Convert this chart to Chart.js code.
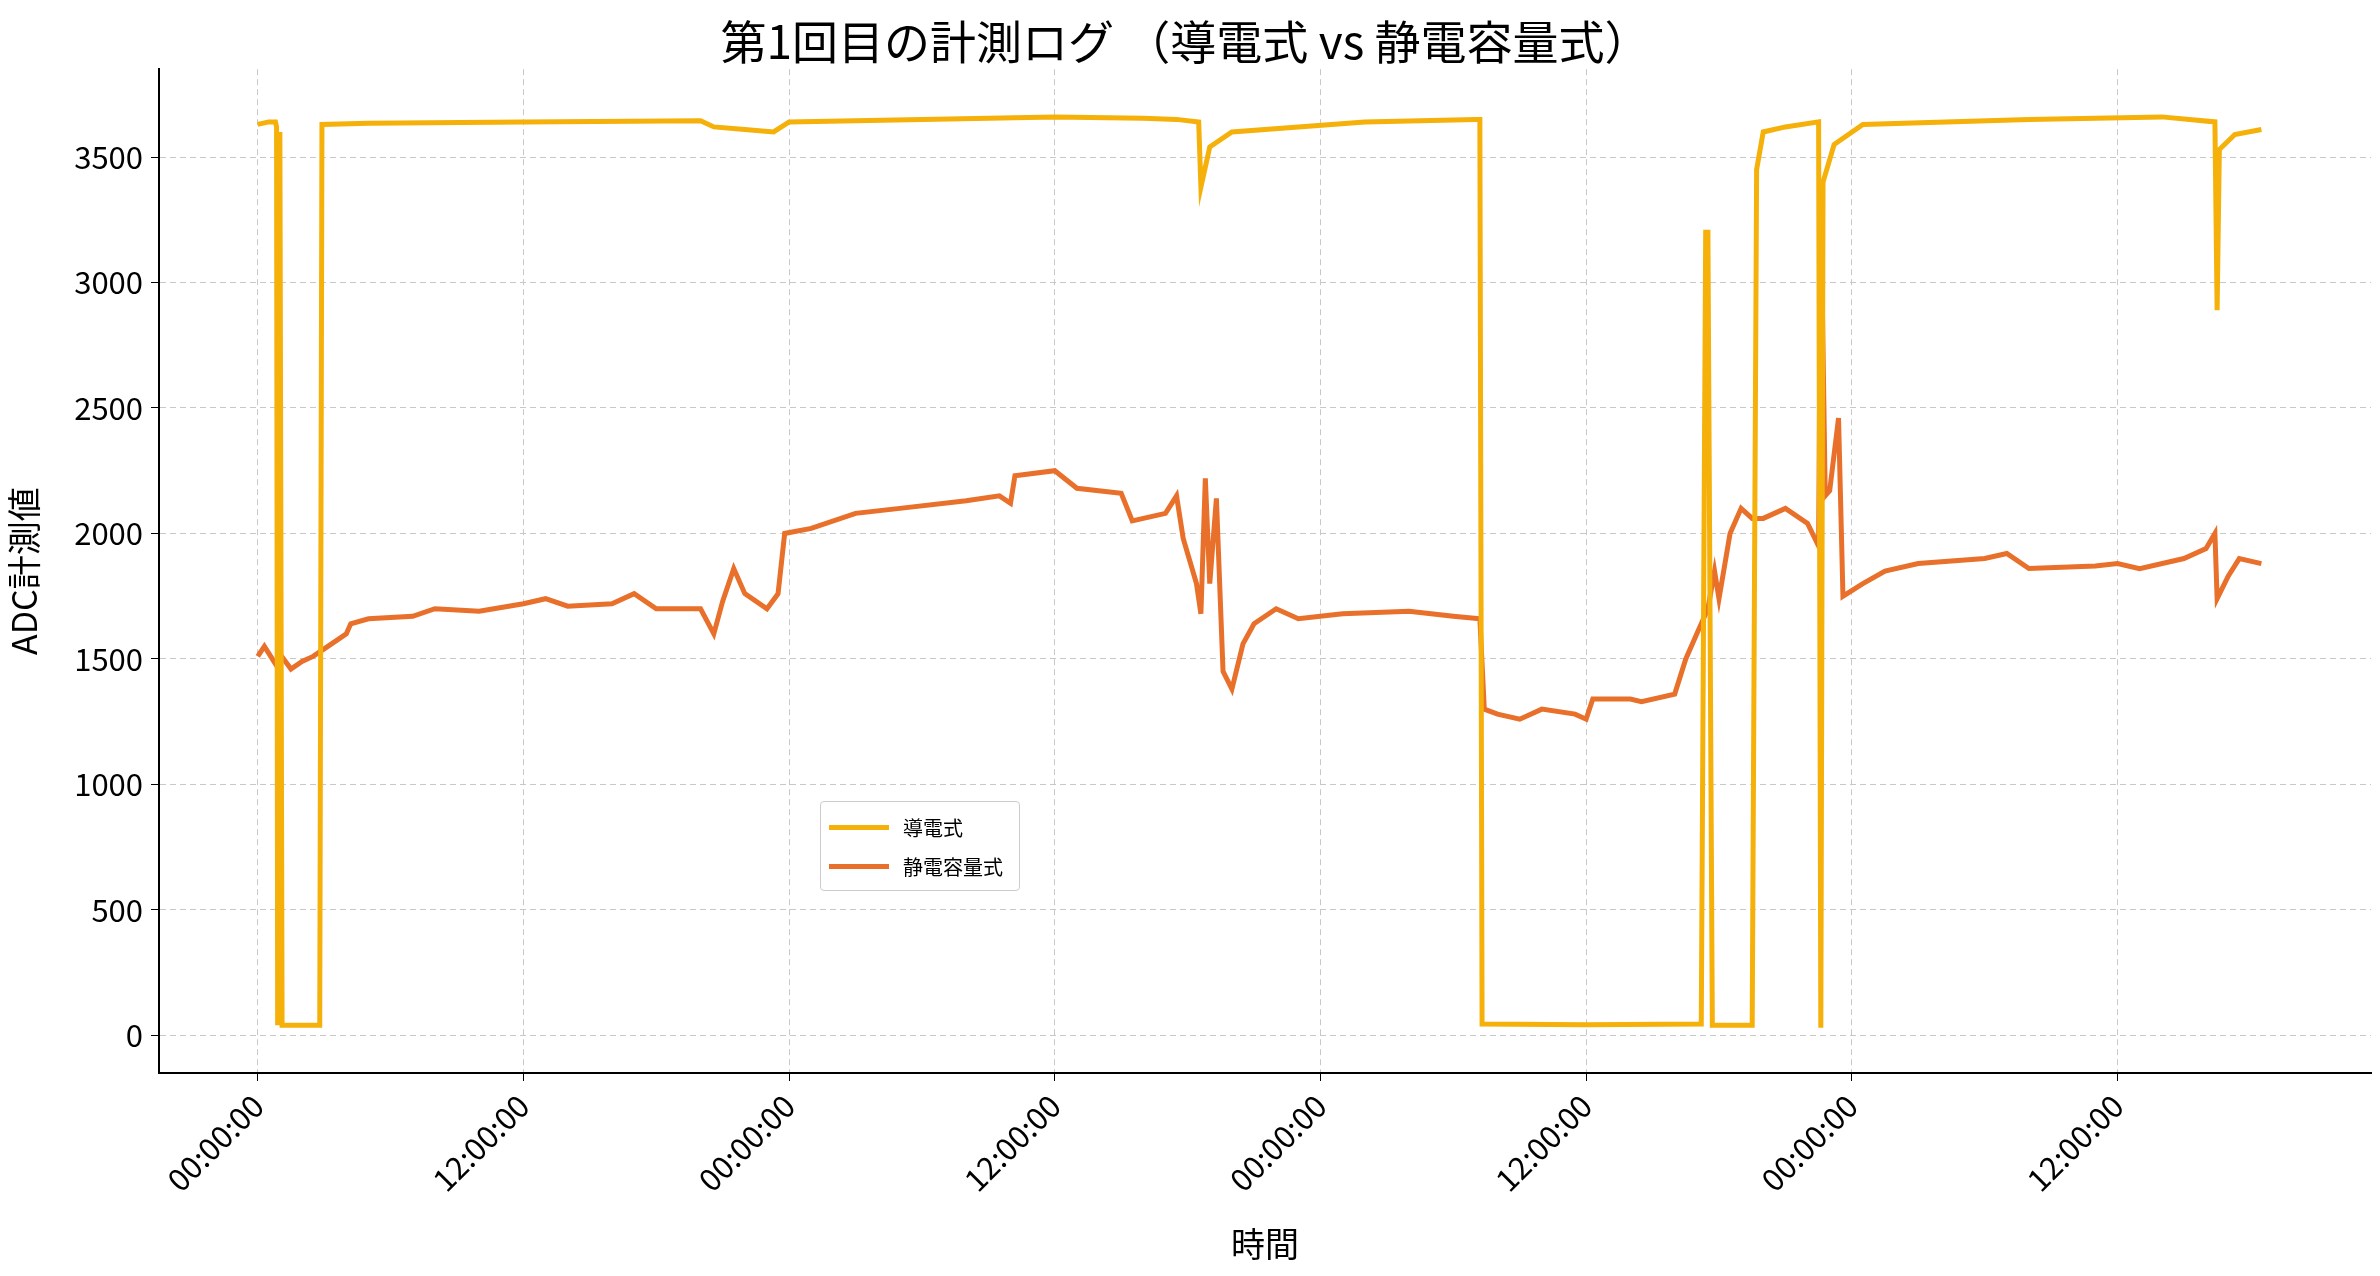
<!DOCTYPE html>
<html><head><meta charset="utf-8">
<script src="https://cdn.jsdelivr.net/npm/chart.js@4"></script>
<style>
html,body{margin:0;padding:0;background:#fff;}
#wrap{position:relative;width:2380px;height:1276px;}
#leg{position:absolute;left:820px;top:801px;width:200px;height:90px;border:1px solid #ccc;border-radius:4px;background:rgba(255,255,255,0.9);font-family:"Noto Sans CJK JP";font-size:20px;color:#000;box-sizing:border-box;padding-top:6px;}
#leg div{display:flex;align-items:center;height:39px;}
#leg span.l{display:inline-block;width:60px;height:5px;margin:0 14px 0 8px;}
</style></head><body>
<div id="wrap"><canvas id="c" width="2380" height="1276"></canvas>
<div id="leg"><div><span class="l" style="background:#F5B00A"></span>導電式</div><div><span class="l" style="background:#E8702A"></span>静電容量式</div></div>
</div>
<script>
const conductiveT=[0,0.5,0.8,0.85,0.9,1.0,1.1,2.8,2.9,5,12,20,20.6,22,23.3,24,30,36,40,41.5,42.5,42.6,43,44,47,50,55,55.2,55.3,60,65.2,65.4,65.5,65.7,67.5,67.7,68,69,70.5,70.6,70.7,71.2,72.5,80,86,88.4,88.5,88.6,89.3,90.5];
const conductiveV=[3630,3640,3640,3620,40,3600,40,40,3630,3635,3640,3645,3620,3610,3600,3640,3650,3660,3655,3650,3640,3380,3540,3600,3620,3640,3650,3650,45,42,45,3200,3200,40,40,3450,3600,3620,3640,30,3400,3550,3630,3650,3660,3640,2890,3530,3590,3610];
const capacitiveT=[0,0.3,0.8,1,1.5,2,2.5,3,3.5,4,4.2,5,7,8,10,12,13,14,16,17,18,20,20.6,21,21.5,22,23,23.5,23.8,25,27,29,32,33.5,34,34.2,36,37,39,39.5,41,41.5,41.8,42.4,42.6,42.8,43,43.3,43.6,44,44.5,45,46,47,49,52,54,55.2,55.4,56,57,58,59.5,60,60.3,62,62.5,64,64.5,65,65.5,65.8,66,66.5,67,67.5,68,69,70,70.5,70.6,70.8,71,71.4,71.6,72.5,73.5,75,78,79,80,83,84,85,87,88,88.4,88.5,89,89.5,90.5];
const capacitiveV=[1510,1550,1480,1520,1460,1490,1510,1540,1570,1600,1640,1660,1670,1700,1690,1720,1740,1710,1720,1760,1700,1700,1600,1730,1860,1760,1700,1760,2000,2020,2080,2100,2130,2150,2120,2230,2250,2180,2160,2050,2080,2150,1980,1800,1680,2220,1800,2140,1450,1380,1560,1640,1700,1660,1680,1690,1670,1660,1300,1280,1260,1300,1280,1260,1340,1340,1330,1360,1500,1600,1700,1850,1740,2000,2100,2060,2060,2100,2040,1950,3320,2150,2170,2460,1750,1800,1850,1880,1900,1920,1860,1870,1880,1860,1900,1940,2000,1740,1830,1900,1880];
const xTickHours=[0,12,24,36,48,60,72,84];
const yTicks=[0,500,1000,1500,2000,2500,3000,3500];
const toXY=(t,v)=>t.map((x,i)=>({x,y:v[i]}));
const F='"Noto Sans CJK JP"';
new Chart(document.getElementById('c'),{
type:'line',
data:{datasets:[
{label:'導電式',data:toXY(conductiveT,conductiveV),borderColor:'#F5B00A',borderWidth:5,pointRadius:0,tension:0},
{label:'静電容量式',data:toXY(capacitiveT,capacitiveV),borderColor:'#E8702A',borderWidth:5,pointRadius:0,tension:0}
]},
options:{responsive:false,animation:false,
layout:{padding:{top:0,right:9,left:0,bottom:0}},
plugins:{legend:{display:false},tooltip:{enabled:false},
title:{display:true,text:'第1回目の計測ログ （導電式 vs 静電容量式）',color:'#000',font:{family:F,size:46,weight:'normal'},padding:{top:14,bottom:0}}},
scales:{
x:{type:'linear',min:-4.46,max:95.45,
afterBuildTicks:s=>{s.ticks=xTickHours.map(v=>({value:v}));},
afterFit:s=>{s.height=203;},
ticks:{maxRotation:45,minRotation:45,padding:6,color:'#000',font:{family:F,size:31},callback:v=>String(((v%24)+24)%24).padStart(2,'0')+':00:00'},
grid:{color:'#c8c8c8',tickColor:'#000',tickLength:8},
border:{color:'#000',width:2,dash:[6,4]},
title:{display:true,text:'時間',color:'#000',font:{family:F,size:34},padding:{top:0,bottom:12}}},
y:{min:-150,max:3850,
afterBuildTicks:s=>{s.ticks=yTicks.map(v=>({value:v}));},
afterFit:s=>{s.width=159;},
ticks:{color:'#000',padding:8,font:{family:F,size:31},callback:v=>String(v)},
grid:{color:'#c8c8c8',tickColor:'#000',tickLength:8},
border:{color:'#000',width:2,dash:[6,4]},
title:{display:true,text:'ADC計測値',color:'#000',font:{family:F,size:34}}}
}}});
</script></body></html>
